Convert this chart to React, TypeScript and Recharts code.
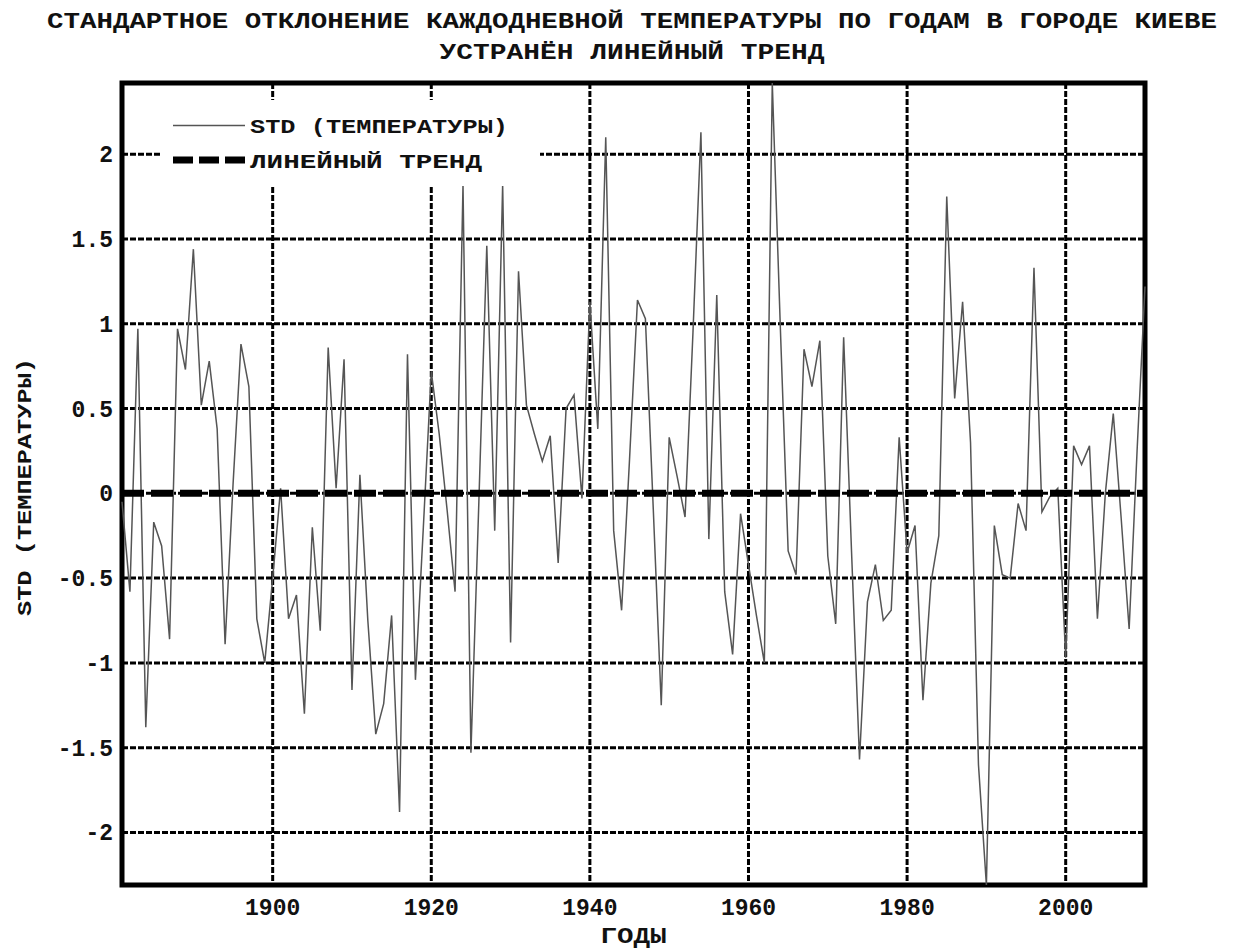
import {
  LineChart,
  Line,
  XAxis,
  YAxis,
  CartesianGrid,
  Legend,
  ReferenceArea,
  Label,
} from 'recharts'

// годы наблюдений
const years = [
  1881, 1882, 1883, 1884, 1885, 1886, 1887, 1888, 1889, 1890,
  1891, 1892, 1893, 1894, 1895, 1896, 1897, 1898, 1899, 1900,
  1901, 1902, 1903, 1904, 1905, 1906, 1907, 1908, 1909, 1910,
  1911, 1912, 1913, 1914, 1915, 1916, 1917, 1918, 1919, 1920,
  1921, 1922, 1923, 1924, 1925, 1926, 1927, 1928, 1929, 1930,
  1931, 1932, 1933, 1934, 1935, 1936, 1937, 1938, 1939, 1940,
  1941, 1942, 1943, 1944, 1945, 1946, 1947, 1948, 1949, 1950,
  1951, 1952, 1953, 1954, 1955, 1956, 1957, 1958, 1959, 1960,
  1961, 1962, 1963, 1964, 1965, 1966, 1967, 1968, 1969, 1970,
  1971, 1972, 1973, 1974, 1975, 1976, 1977, 1978, 1979, 1980,
  1981, 1982, 1983, 1984, 1985, 1986, 1987, 1988, 1989, 1990,
  1991, 1992, 1993, 1994, 1995, 1996, 1997, 1998, 1999, 2000,
  2001, 2002, 2003, 2004, 2005, 2006, 2007, 2008, 2009, 2010,
]

// STD температуры, линейный тренд устранён
const stdValues = [
  -0.05, -0.58, 0.97, -1.38, -0.17, -0.31, -0.86, 0.97, 0.73, 1.44,
  0.52, 0.78, 0.38, -0.89, 0.05, 0.88, 0.63, -0.74, -1.0, -0.5,
  0.03, -0.74, -0.6, -1.3, -0.2, -0.81, 0.86, 0.03, 0.79, -1.16,
  0.11, -0.75, -1.42, -1.24, -0.72, -1.88, 0.82, -1.1, -0.2, 0.72,
  0.35, -0.1, -0.58, 1.82, -1.53, -0.05, 1.46, -0.22, 1.82, -0.88,
  1.31, 0.52, 0.35, 0.19, 0.34, -0.41, 0.5, 0.58, -0.03, 1.13,
  0.38, 2.1, -0.22, -0.69, 0.2, 1.14, 1.03, -0.1, -1.25, 0.33,
  0.1, -0.14, 0.95, 2.13, -0.27, 1.17, -0.58, -0.95, -0.12, -0.42,
  -0.72, -1.0, 2.42, 1.0, -0.34, -0.48, 0.85, 0.63, 0.9, -0.37,
  -0.77, 0.92, -0.35, -1.57, -0.64, -0.42, -0.75, -0.69, 0.33, -0.35,
  -0.19, -1.22, -0.53, -0.25, 1.75, 0.56, 1.13, 0.3, -1.6, -2.31,
  -0.19, -0.48, -0.5, -0.06, -0.22, 1.33, -0.11, -0.02, 0.03, -0.97,
  0.28, 0.17, 0.28, -0.74, 0.0, 0.47, -0.15, -0.8, 0.25, 1.22,
]

const trendYears = [1881, 2010]
const trendValues = [0, 0]

const xTicks = [1900, 1920, 1940, 1960, 1980, 2000]
const yTicks = [-2, -1.5, -1, -0.5, 0, 0.5, 1, 1.5, 2]

const titleLines = [
  'СТАНДАРТНОЕ ОТКЛОНЕНИЕ КАЖДОДНЕВНОЙ ТЕМПЕРАТУРЫ ПО ГОДАМ В ГОРОДЕ КИЕВЕ',
  'УСТРАНЁН ЛИНЕЙНЫЙ ТРЕНД',
]
const stdName = 'STD (ТЕМПЕРАТУРЫ)'
const trendName = 'ЛИНЕЙНЫЙ ТРЕНД'
const xLabel = 'ГОДЫ'
const yLabel = 'STD (ТЕМПЕРАТУРЫ)'

const stdData = years.map((year, i) => ({ year, std: stdValues[i] }))
const trendData = trendYears.map((year, i) => ({ year, trend: trendValues[i] }))

const FONT = '"Liberation Mono", "DejaVu Sans Mono", monospace'

function XTick(props: any) {
  const { x, y, payload } = props
  return (
    <text x={x} y={y + 30} textAnchor="middle" fontFamily={FONT} fontWeight="bold" fontSize={23} fill="#111">
      {payload.value}
    </text>
  )
}

function YTick(props: any) {
  const { x, y, payload } = props
  return (
    <text x={x - 9} y={y + 8} textAnchor="end" fontFamily={FONT} fontWeight="bold" fontSize={23} fill="#111">
      {payload.value}
    </text>
  )
}

function LegendBox() {
  return (
    <svg width={380} height={86} style={{ display: 'block' }}>
      <rect width={380} height={86} fill="#fff" />
      <line x1={13} x2={85} y1={25.5} y2={25.5} stroke="#555" strokeWidth={1.5} />
      <text x={90} y={33} textLength={258} lengthAdjust="spacingAndGlyphs" fontFamily={FONT} fontWeight="bold" fontSize={21} fill="#111">
        {stdName}
      </text>
      <line x1={13} x2={85} y1={60} y2={60} stroke="#000" strokeWidth={7} strokeDasharray="20 6" />
      <text x={90} y={68} textLength={232} lengthAdjust="spacingAndGlyphs" fontFamily={FONT} fontWeight="bold" fontSize={21} fill="#111">
        {trendName}
      </text>
    </svg>
  )
}

export default function App() {
  const minV = Math.min(...stdValues)
  const maxV = Math.max(...stdValues)
  return (
    <div style={{ position: 'relative', width: 1160, height: 944 }}>
      <svg width={1219} height={70} style={{ position: 'absolute', left: 0, top: 0 }}>
        <text x={624} y={20} textAnchor="middle" textLength={1170} lengthAdjust="spacingAndGlyphs" fontFamily={FONT} fontWeight="bold" fontSize={22} fill="#111">
          {titleLines[0]}
        </text>
        <text x={624} y={51} textAnchor="middle" textLength={385} lengthAdjust="spacingAndGlyphs" fontFamily={FONT} fontWeight="bold" fontSize={22} fill="#111">
          {titleLines[1]}
        </text>
      </svg>
      <LineChart width={1160} height={944} margin={{ top: 75, right: 23, bottom: 7, left: 54 }}>
        <CartesianGrid stroke="#000" strokeWidth={3} strokeDasharray="6 2" />
        <XAxis
          dataKey="year"
          type="number"
          domain={['dataMin', 'dataMax']}
          ticks={xTicks}
          height={60}
          axisLine={false}
          tickLine={false}
          tickSize={0}
          tickMargin={0}
          tick={<XTick />}
          allowDuplicatedCategory={false}
        >
          <Label
            content={(p: any) => {
              const vb = p.viewBox
              return (
                <text x={vb.x + vb.width / 2} y={935} textAnchor="middle" textLength={66} lengthAdjust="spacingAndGlyphs" fontFamily={FONT} fontWeight="bold" fontSize={22} fill="#111">
                  {xLabel}
                </text>
              )
            }}
          />
        </XAxis>
        <YAxis
          type="number"
          domain={['dataMin', 'dataMax']}
          ticks={yTicks}
          width={60}
          axisLine={false}
          tickLine={false}
          tickSize={0}
          tickMargin={0}
          tick={<YTick />}
        >
          <Label
            content={(p: any) => {
              const vb = p.viewBox
              const cy = vb.y + vb.height / 2 + 3
              return (
                <text x={23} y={cy} transform={`rotate(-90, 23, ${cy})`} textAnchor="middle" textLength={258} lengthAdjust="spacingAndGlyphs" fontFamily={FONT} fontWeight="bold" fontSize={20} fill="#111">
                  {yLabel}
                </text>
              )
            }}
          />
        </YAxis>
        <Legend
          layout="vertical"
          align="center"
          verticalAlign="middle"
          content={() => <LegendBox />}
          wrapperStyle={{ position: 'absolute', left: 152, top: 92, width: 380, height: 86 }}
        />
        <Line
          data={stdData}
          dataKey="std"
          name={stdName}
          type="linear"
          stroke="#555"
          strokeWidth={1.5}
          dot={false}
          isAnimationActive={false}
        />
        <Line
          data={trendData}
          dataKey="trend"
          name={trendName}
          type="linear"
          stroke="#000"
          strokeWidth={7}
          strokeDasharray="22 7"
          dot={false}
          isAnimationActive={false}
        />
        <ReferenceArea
          x1={years[0]}
          x2={years[years.length - 1]}
          y1={minV}
          y2={maxV}
          fill="none"
          stroke="#000"
          strokeWidth={5}
          ifOverflow="visible"
        />
      </LineChart>
    </div>
  )
}
